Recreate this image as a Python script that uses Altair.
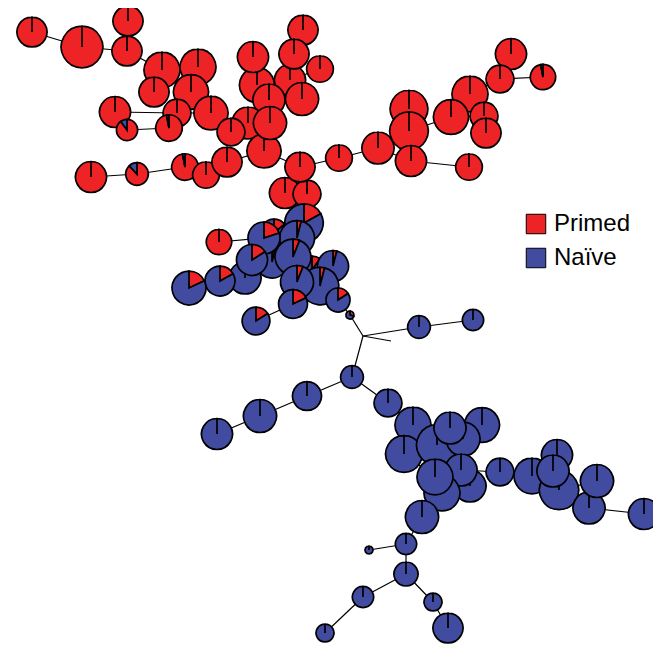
import altair as alt
import pandas as pd

# ---- data ----
node_id = [1, 2, 3, 4, 5, 6, 7, 8, 13, 11, 9, 12, 10, 14, 15, 16, 17,
           22, 23, 21, 18, 19, 20, 24, 25, 26, 30, 28, 27, 29, 45, 46, 31, 32, 33,
           34, 35, 36, 38, 37, 39, 40, 41, 42, 43, 44, 47,
           49, 54, 55, 59, 48, 51, 50, 53, 52, 56, 57, 58, 61, 60, 62, 63, 64, 65,
           66, 67, 68, 69, 70, 71, 72, 75, 73, 78, 76, 77, 74, 81, 79, 82, 80, 83,
           84, 85, 88, 86, 87, 90, 89, 91, 92, 93, 94, 95, 96, 97, 98, 99, 100]
node_x = [32, 82, 128, 127, 162, 198, 154, 191, 211, 177, 115, 169, 127, 91, 137, 185, 206,
          257, 290, 320, 303, 253, 294, 269, 302, 248, 264, 231, 270, 227, 285, 307, 300, 339, 378,
          409, 409, 411, 470, 451, 484, 486, 511, 500, 543, 469, 219,
          274, 272, 245, 312, 304, 297, 264, 252, 293, 220, 189, 333, 320, 297, 338, 293, 256, 350,
          419, 473, 352, 307, 260, 217, 388, 482, 413, 404, 437, 463, 450, 470, 461, 442, 435, 422,
          500, 532, 559, 557, 553, 589, 597, 644, 406, 369, 406, 363, 433, 448, 325, 363, 391]
node_y = [32, 47, 21, 51, 70, 67, 92, 92, 113, 113, 112, 128, 130, 177, 174, 167, 175,
          85, 80, 69, 30, 57, 54, 100, 99, 123, 151, 132, 123, 162, 193, 194, 167, 158, 148,
          109, 131, 161, 94, 117, 116, 133, 54, 79, 77, 167, 242,
          233, 262, 278, 270, 223, 238, 238, 260, 257, 281, 288, 266, 286, 282, 300, 304, 321, 315,
          327, 320, 377, 396, 416, 434, 403, 425, 425, 454, 445, 439, 428, 486, 470, 493, 477, 517,
          472, 476, 490, 455, 471, 508, 481, 514, 544, 550, 574, 597, 602, 628, 633, 336, 341]
node_cells = [14, 27, 14, 14, 20, 20, 14, 19, 18, 12, 15, 11, 7, 15, 8, 11, 11,
              19, 15, 11, 14, 15, 14, 16, 17, 16, 18, 12, 17, 14, 15, 12, 14, 11, 16,
              22, 23, 15, 20, 19, 12, 14, 15, 12, 10, 11, 10,
              12, 16, 16, 12, 23, 19, 16, 15, 20, 14, 18, 15, 22, 17, 9, 13, 12, 1,
              8, 7, 8, 13, 17, 15, 12, 19, 20, 21, 26, 18, 16, 16, 16, 20, 20, 17,
              12, 20, 24, 15, 16, 16, 17, 15, 7, 1, 9, 7, 5, 14, 5, 0, 0]
node_primed = [1, 1, 1, 1, 1, 1, 1, 1, 1, 1, 1, 0.97, 0.9, 1, 0.88, 0.97, 1,
               1, 1, 1, 1, 1, 1, 1, 1, 1, 1, 1, 1, 1, 1, 1, 1, 1, 1,
               1, 1, 1, 1, 1, 1, 1, 1, 1, 0.97, 1, 1,
               0.14, 0.04, 0, 0.1, 0.17, 0.04, 0.2, 0.16, 0.06, 0.17, 0.18, 0.04, 0.04, 0.06, 0.16, 0.18, 0.16, 0.3,
               0, 0, 0, 0, 0, 0, 0, 0, 0, 0, 0, 0, 0, 0, 0, 0, 0, 0,
               0, 0, 0, 0, 0, 0, 0, 0, 0, 0, 0, 0, 0, 0, 0, 0, 0]

edge_from = [1, 2, 3, 4, 5, 5, 6, 8, 11, 9, 12, 10, 13, 28, 26, 27, 24, 22, 24, 23, 20, 23, 23,
             27, 30, 29, 17, 16, 15, 30, 31, 32, 33, 36, 35, 35, 37, 38, 42, 42, 37, 39, 36, 31, 45, 46,
             48, 48, 49, 50, 51, 52, 54, 53, 55, 56, 52, 60, 59, 60, 61, 60, 63, 62, 65, 99, 99, 66,
             99, 68, 69, 70, 68, 72, 73, 76, 76, 77, 76, 78, 80, 79, 84, 85, 87, 87, 88, 88, 90,
             80, 82, 82, 83, 92, 92, 94, 95, 94, 96]
edge_to = [2, 4, 4, 5, 7, 6, 8, 13, 13, 11, 11, 12, 28, 26, 27, 24, 22, 19, 23, 20, 18, 21, 25,
           30, 29, 17, 16, 15, 14, 31, 32, 33, 36, 35, 34, 37, 38, 42, 41, 43, 39, 40, 44, 45, 46, 48,
           51, 49, 50, 47, 52, 54, 53, 55, 56, 57, 60, 59, 58, 61, 62, 63, 64, 65, 99, 100, 66, 67,
           68, 69, 70, 71, 72, 73, 76, 74, 77, 75, 78, 80, 79, 84, 85, 87, 86, 88, 89, 90, 91,
           82, 81, 83, 92, 93, 94, 95, 98, 96, 97]

groups = ["Primed", "Naïve"]
group_colors = ["#EE2325", "#414CA0"]

# ---- tables built from the arrays ----
nodes = pd.DataFrame({"id": node_id, "x": node_x, "y": node_y,
                      "cells": node_cells, "primed": node_primed})
rows = []
for n in nodes.itertuples():
    if n.cells == 0:
        continue
    if n.primed > 0:
        rows.append({"id": n.id, "x": n.x, "y": n.y, "cells": n.cells,
                     "group": "Primed", "start": 0.0, "end": n.primed})
    if n.primed < 1:
        rows.append({"id": n.id, "x": n.x, "y": n.y, "cells": n.cells,
                     "group": "Naïve", "start": n.primed, "end": 1.0})
slices = pd.DataFrame(rows)

pos = nodes.set_index("id")
edges = pd.DataFrame({
    "x": pos.loc[edge_from, "x"].values, "y": pos.loc[edge_from, "y"].values,
    "x2": pos.loc[edge_to, "x"].values, "y2": pos.loc[edge_to, "y"].values,
})

xs = alt.Scale(domain=[8, 653], range=[0, 645])
ys = alt.Scale(domain=[8, 644], range=[0, 636])

links = alt.Chart(edges).mark_rule(color="black", strokeWidth=1.2).encode(
    x=alt.X("x:Q", scale=xs, axis=None),
    y=alt.Y("y:Q", scale=ys, axis=None),
    x2="x2:Q",
    y2="y2:Q",
)

pies = alt.Chart(slices).mark_arc(stroke="black", strokeWidth=1.7).encode(
    x=alt.X("x:Q", scale=xs, axis=None),
    y=alt.Y("y:Q", scale=ys, axis=None),
    theta=alt.Theta("start:Q", scale=alt.Scale(domain=[0, 1], range=[0, 6.2822]), stack=False),
    theta2="end:Q",
    radius=alt.Radius("cells:Q", scale=alt.Scale(type="sqrt", domain=[0, 100], range=[0, 40])),
    color=alt.Color(
        "group:N",
        scale=alt.Scale(domain=groups, range=group_colors),
        legend=alt.Legend(
            title=None, orient="none", legendX=516, legendY=204,
            symbolType="square", symbolSize=380, symbolStrokeColor="black",
            symbolStrokeWidth=1, symbolOpacity=1,
            labelFontSize=24, labelFont="Liberation Sans", labelColor="black",
            labelOffset=6, rowPadding=10, padding=0,
        ),
    ),
)

chart = alt.layer(links, pies).properties(
    width=645, height=636, padding=0, autosize="none"
).configure_view(stroke="transparent")

chart.save("out.html", embed_options={"renderer": "svg", "actions": False})
